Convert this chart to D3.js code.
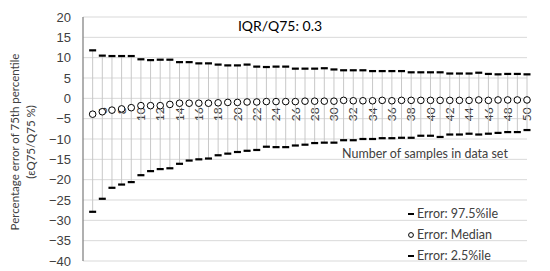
<!DOCTYPE html>
<html>
<head>
<meta charset="utf-8">
<script src="https://cdn.jsdelivr.net/npm/d3@7"></script>
<style>
    body { margin: 0; background: #fff; }
    svg { display: block; font-family: Lato, 'Noto Sans', sans-serif; }
</style>
</head>
<body>
<svg></svg>
<script>
// number of samples in data set
const samples = [5, 6, 7, 8, 9, 10, 11, 12, 13, 14, 15, 16, 17, 18, 19, 20,
    21, 22, 23, 24, 25, 26, 27, 28, 29, 30, 31, 32, 33, 34, 35, 36, 37, 38,
    39, 40, 41, 42, 43, 44, 45, 46, 47, 48, 49, 50]
const upper = [11.8, 10.5, 10.4, 10.4, 10.4, 9.6, 9.4, 9.5, 9.5, 8.9, 8.9,
    8.6, 8.6, 8.3, 8.1, 8.1, 8.3, 7.8, 7.7, 7.8, 7.8, 7.3, 7.3, 7.3, 7.4, 7.1,
    6.9, 6.9, 6.9, 6.7, 6.7, 6.7, 6.7, 6.4, 6.4, 6.4, 6.4, 6.1, 6.1, 6.1, 6.3,
    6.0, 5.9, 6.0, 6.0, 5.9]
const median = [-3.9, -3.3, -2.9, -2.6, -2.3, -1.8, -1.8, -1.8, -1.5, -1.2,
    -1.2, -1.2, -1.2, -1.1, -1.0, -1.0, -0.9, -0.9, -0.8, -0.8, -0.8, -0.8,
    -0.7, -0.7, -0.7, -0.7, -0.5, -0.6, -0.6, -0.6, -0.5, -0.6, -0.5, -0.5,
    -0.5, -0.5, -0.5, -0.5, -0.5, -0.5, -0.4, -0.5, -0.4, -0.4, -0.4, -0.4]
const lower = [-27.9, -24.7, -22.0, -21.2, -20.6, -18.9, -17.9, -17.4, -17.2,
    -16.1, -15.3, -15.0, -14.8, -14.0, -13.6, -13.2, -12.9, -12.7, -11.9, -12.0,
    -12.0, -11.6, -11.4, -11.0, -10.9, -10.9, -10.3, -10.3, -10.0, -10.0, -9.8,
    -9.8, -9.7, -9.7, -9.2, -9.2, -9.5, -8.9, -8.9, -8.7, -8.9, -8.7, -8.5,
    -8.3, -8.3, -7.8]
const xTicks = [6, 8, 10, 12, 14, 16, 18, 20, 22, 24, 26, 28, 30, 32, 34, 36,
    38, 40, 42, 44, 46, 48, 50]
const yTicks = [20, 15, 10, 5, 0, -5, -10, -15, -20, -25, -30, -35, -40]
const legendItems = ['Error: 97.5%ile', 'Error: Median', 'Error: 2.5%ile']

const width = 550,
    height = 271
const plotLeft = 83,
    plotRight = 527,
    plotTop = 17,
    plotBottom = 261

const svg = d3.select('svg').attr('width', width).attr('height', height)

const x = d3.scaleLinear().domain([4, 50]).range([plotLeft, plotRight])
const y = d3.scaleLinear().domain([-40, 20]).range([plotBottom, plotTop])

const rows = samples.map((n, i) => ({
    n,
    hi: upper[i],
    mid: median[i],
    lo: lower[i],
}))

// horizontal gridlines
svg.append('g')
    .selectAll('line')
    .data(yTicks)
    .join('line')
    .attr('x1', plotLeft)
    .attr('x2', plotRight)
    .attr('y1', (d) => y(d))
    .attr('y2', (d) => y(d))
    .attr('stroke', '#d9d9d9')
    .attr('stroke-width', 1)

// y axis labels
const yAxis = svg
    .append('g')
    .attr('transform', `translate(${plotLeft},0)`)
    .call(d3.axisLeft(y).tickValues(yTicks).tickSize(0).tickPadding(12))
yAxis.select('.domain').remove()
yAxis
    .selectAll('text')
    .attr('font-size', 13)
    .attr('font-family', null)
    .attr('fill', '#404040')

// y axis line
svg.append('line')
    .attr('x1', plotLeft)
    .attr('x2', plotLeft)
    .attr('y1', plotTop)
    .attr('y2', plotBottom)
    .attr('stroke', '#868686')
    .attr('stroke-width', 1.3)

// x labels (rotated, sitting under the zero line)
svg.append('g')
    .selectAll('text')
    .data(xTicks)
    .join('text')
    .attr(
        'transform',
        (d) => `translate(${x(d)},${y(0) + 9}) rotate(-90)`
    )
    .attr('text-anchor', 'end')
    .attr('dy', '0.35em')
    .attr('font-size', 12)
    .attr('fill', '#404040')
    .text((d) => d)

// high-low lines
svg.append('g')
    .selectAll('line')
    .data(rows)
    .join('line')
    .attr('x1', (d) => x(d.n))
    .attr('x2', (d) => x(d.n))
    .attr('y1', (d) => y(d.hi))
    .attr('y2', (d) => y(d.lo))
    .attr('stroke', '#c8c8c8')
    .attr('stroke-width', 1)

// 97.5%ile and 2.5%ile dashes
const dash = (g, key) =>
    g
        .selectAll('rect')
        .data(rows)
        .join('rect')
        .attr('x', (d) => x(d.n) - 3.5)
        .attr('y', (d) => y(d[key]) - 1.1)
        .attr('width', 7)
        .attr('height', 2.2)
        .attr('fill', '#000')
svg.append('g').call(dash, 'hi')
svg.append('g').call(dash, 'lo')

// medians
svg.append('g')
    .selectAll('circle')
    .data(rows)
    .join('circle')
    .attr('cx', (d) => x(d.n))
    .attr('cy', (d) => y(d.mid))
    .attr('r', 3.3)
    .attr('fill', '#fff')
    .attr('stroke', '#000')
    .attr('stroke-width', 1)

// titles
svg.append('text')
    .attr('x', 280)
    .attr('y', 31)
    .attr('text-anchor', 'middle')
    .attr('font-size', 14)
    .attr('fill', '#000')
    .text('IQR/Q75: 0.3')

svg.append('text')
    .attr('x', 425)
    .attr('y', 158)
    .attr('text-anchor', 'middle')
    .attr('font-size', 12.5)
    .attr('fill', '#404040')
    .text('Number of samples in data set')

const yTitle = svg
    .append('text')
    .attr('transform', 'translate(15,142) rotate(-90)')
    .attr('text-anchor', 'middle')
    .attr('font-size', 11.5)
    .attr('fill', '#404040')
yTitle
    .append('tspan')
    .attr('x', 0)
    .attr('dy', '0.35em')
    .text('Percentage error of 75th percentile')
yTitle
    .append('tspan')
    .attr('x', 0)
    .attr('dy', 16)
    .text('(εQ75/Q75 %)')

// legend
const legend = svg
    .append('g')
    .selectAll('g')
    .data(legendItems)
    .join('g')
    .attr('transform', (d, i) => `translate(411,${214 + i * 21})`)
legend
    .filter((d, i) => i !== 1)
    .append('rect')
    .attr('x', -3)
    .attr('y', -1)
    .attr('width', 6)
    .attr('height', 2)
    .attr('fill', '#000')
legend
    .filter((d, i) => i === 1)
    .append('circle')
    .attr('r', 2.4)
    .attr('fill', '#fff')
    .attr('stroke', '#000')
legend
    .append('text')
    .attr('x', 6)
    .attr('dy', '0.35em')
    .attr('font-size', 12.5)
    .attr('fill', '#404040')
    .text((d) => d)
</script>
</body>
</html>
